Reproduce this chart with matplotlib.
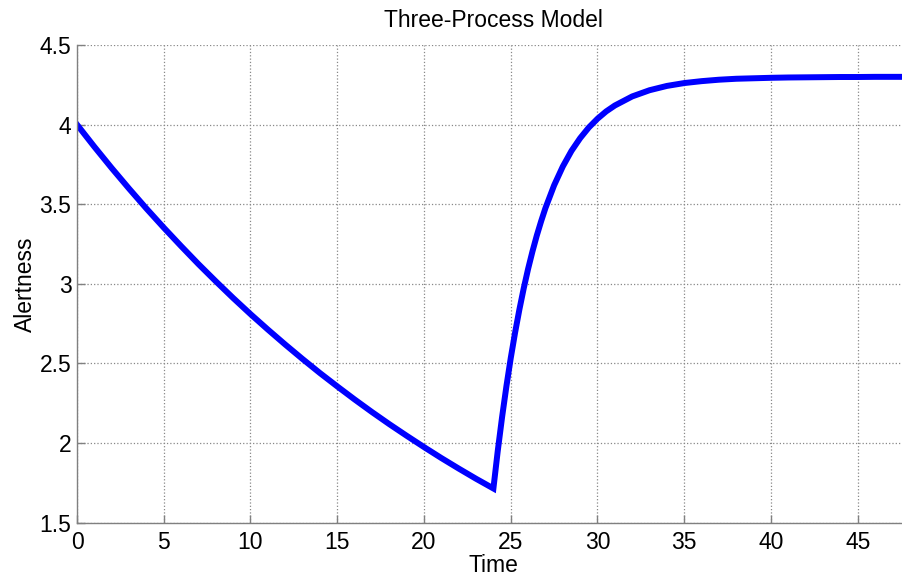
import matplotlib
matplotlib.use("Agg")
import matplotlib.pyplot as plt

# alertness over two days: wake decay to t=24, then recovery
time = [0, 1, 2, 3, 4, 5, 6, 7, 8, 9, 10, 11, 12, 13, 14, 15, 16, 17, 18, 19,
        20, 21, 22, 23, 24, 24.25, 24.5, 24.75, 25, 25.25, 25.5, 25.75, 26,
        26.25, 26.5, 26.75, 27, 27.5, 28, 28.5, 29, 29.5, 30, 30.5, 31, 32,
        33, 34, 35, 36, 37, 38, 39, 40, 41, 42, 43, 44, 45, 46, 47, 48]
alertness = [4.000, 3.861, 3.727, 3.598, 3.473, 3.353, 3.237, 3.124, 3.016,
             2.911, 2.810, 2.713, 2.619, 2.528, 2.440, 2.356, 2.274, 2.195,
             2.119, 2.046, 1.975, 1.906, 1.840, 1.776, 1.715, 1.950, 2.163,
             2.357, 2.534, 2.694, 2.840, 2.973, 3.094, 3.203, 3.303, 3.393,
             3.476, 3.619, 3.737, 3.835, 3.915, 3.982, 4.037, 4.083, 4.120,
             4.177, 4.216, 4.243, 4.261, 4.273, 4.282, 4.288, 4.291, 4.294,
             4.296, 4.297, 4.298, 4.299, 4.299, 4.300, 4.300, 4.300]

xticks = [0, 5, 10, 15, 20, 25, 30, 35, 40, 45]
yticks = [1.5, 2, 2.5, 3, 3.5, 4, 4.5]

plt.rcParams['font.family'] = ['Liberation Sans', 'DejaVu Sans']

fig = plt.figure(figsize=(9.02, 5.78), dpi=100)
ax = fig.add_axes([77 / 902, 55.3 / 578, 832.8 / 902, 477.7 / 578])

ax.plot(time, alertness, color='#0000ff', linewidth=4.3, solid_joinstyle='miter')

ax.set_xlim(0, 48)
ax.set_ylim(1.5, 4.5)
ax.set_xticks(xticks)
ax.set_yticks(yticks)
ax.set_yticklabels(['1.5', '2', '2.5', '3', '3.5', '4', '4.5'])

ax.grid(True, linestyle=':', color='#888888', linewidth=0.9)
ax.set_axisbelow(True)

for side in ['top', 'right']:
    ax.spines[side].set_visible(False)
for side in ['left', 'bottom']:
    ax.spines[side].set_color('#808080')
    ax.spines[side].set_linewidth(1.0)

ax.tick_params(direction='in', length=6, width=1.0, color='#808080',
               labelsize=16.5, labelcolor='black')
ax.tick_params(axis='x', pad=6)
ax.tick_params(axis='y', pad=4)

ax.set_title('Three-Process Model', fontsize=16.5, pad=13)
ax.set_xlabel('Time', fontsize=16.5, labelpad=0)
ax.set_ylabel('Alertness', fontsize=16.5, labelpad=2)

fig.savefig('out.png', dpi=100)
